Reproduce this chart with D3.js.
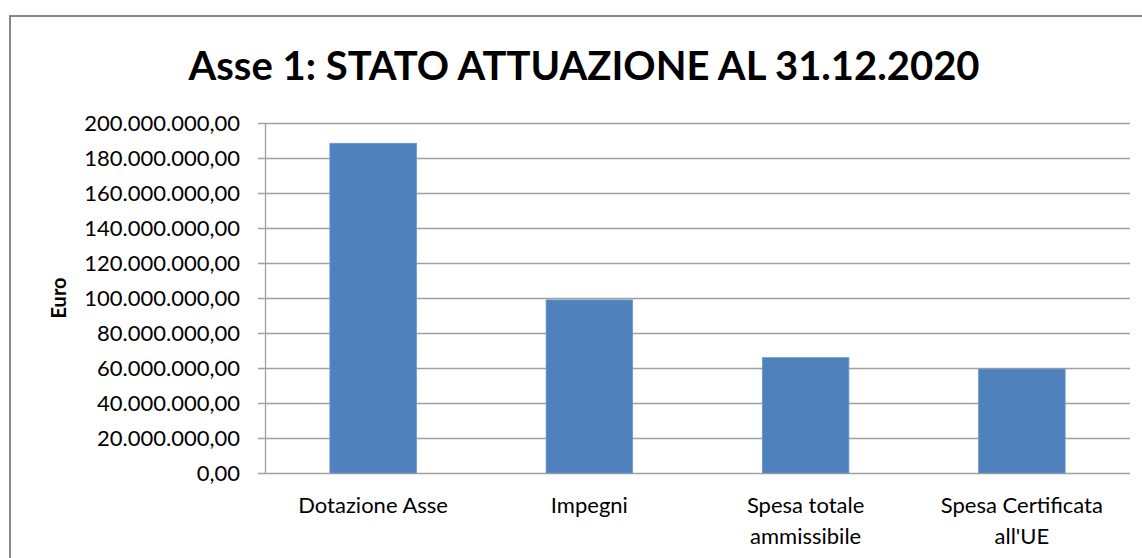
<!DOCTYPE html>
<html>
<head>
<meta charset="utf-8">
<script src="https://cdn.jsdelivr.net/npm/d3@7"></script>
<style>
  html, body { margin: 0; padding: 0; background: #ffffff; overflow: hidden; }
  svg { display: block; }
</style>
</head>
<body>
<svg id="chart" width="1142" height="558"></svg>
<script>
const categories = [["Dotazione Asse"], ["Impegni"], ["Spesa totale", "ammissibile"], ["Spesa Certificata", "all'UE"]];
const values = [188400000, 98900000, 65900000, 59400000];
const yTicks = [0, 20000000, 40000000, 60000000, 80000000, 100000000, 120000000, 140000000, 160000000, 180000000, 200000000];
const titleText = "Asse 1: STATO ATTUAZIONE AL 31.12.2020";
const yAxisTitle = "Euro";

(function () {
const svg = d3.select("#chart");
const font = "Lato, 'Open Sans', sans-serif";

// outer border
svg.append("rect").attr("x", 10).attr("y", 16).attr("width", 1160).attr("height", 580)
  .attr("fill", "#fff").attr("stroke", "#878787").attr("stroke-width", 2);

const pLeft = 265, pRight = 1130, pTop = 123, pBottom = 473;
const keys = categories.map((c, i) => i);
const x = d3.scaleBand().domain(keys).range([pLeft, pRight]).paddingInner(0.6).paddingOuter(0.3);
const y = d3.scaleLinear().domain([0, 200000000]).range([pBottom, pTop]);

const fmt = v => {
  const s = d3.format(",.2f")(v);
  return s.replace(/,/g, "#").replace(".", ",").replace(/#/g, ".");
};

// gridlines
svg.append("g").selectAll("line").data(yTicks).join("line")
  .attr("x1", pLeft - 7).attr("x2", pRight)
  .attr("y1", d => Math.round(y(d)) + 0.5).attr("y2", d => Math.round(y(d)) + 0.5)
  .attr("stroke", "#a0a0a0").attr("stroke-width", 1.3);

// y axis
const yAxis = d3.axisLeft(y).tickValues(yTicks).tickFormat(fmt).tickSize(0).tickPadding(25);
const gy = svg.append("g").attr("transform", `translate(${pLeft},0)`).call(yAxis);
gy.select(".domain").attr("stroke", "#a0a0a0").attr("stroke-width", 1.3);
gy.selectAll("text").attr("font-family", font).attr("font-size", 22).attr("fill", "#000");

// bars
svg.append("g").selectAll("rect").data(values).join("rect")
  .attr("x", (d, i) => x(i)).attr("width", x.bandwidth())
  .attr("y", d => y(d)).attr("height", d => pBottom - y(d))
  .attr("fill", "#4f81bd").attr("stroke", "#6a95c8").attr("stroke-width", 0.8);

// x labels
const xl = svg.append("g").selectAll("text").data(categories).join("text")
  .attr("x", (d, i) => x(i) + x.bandwidth() / 2).attr("y", 513)
  .attr("text-anchor", "middle").attr("font-family", font).attr("font-size", 22).attr("fill", "#000");
xl.each(function(d) {
  const t = d3.select(this);
  d.forEach((line, j) => {
    t.append("tspan").attr("x", t.attr("x")).attr("dy", j === 0 ? 0 : 31).text(line);
  });
});

// y axis title
svg.append("text").attr("transform", "translate(66,298) rotate(-90)")
  .attr("text-anchor", "middle").attr("font-family", font).attr("font-weight", "bold")
  .attr("font-size", 20).attr("fill", "#000").text(yAxisTitle);

// title
svg.append("text").attr("x", 584).attr("y", 80).attr("text-anchor", "middle")
  .attr("font-family", font).attr("font-weight", "bold").attr("font-size", 40)
  .attr("fill", "#000").text(titleText);
})();
</script>
</body>
</html>
